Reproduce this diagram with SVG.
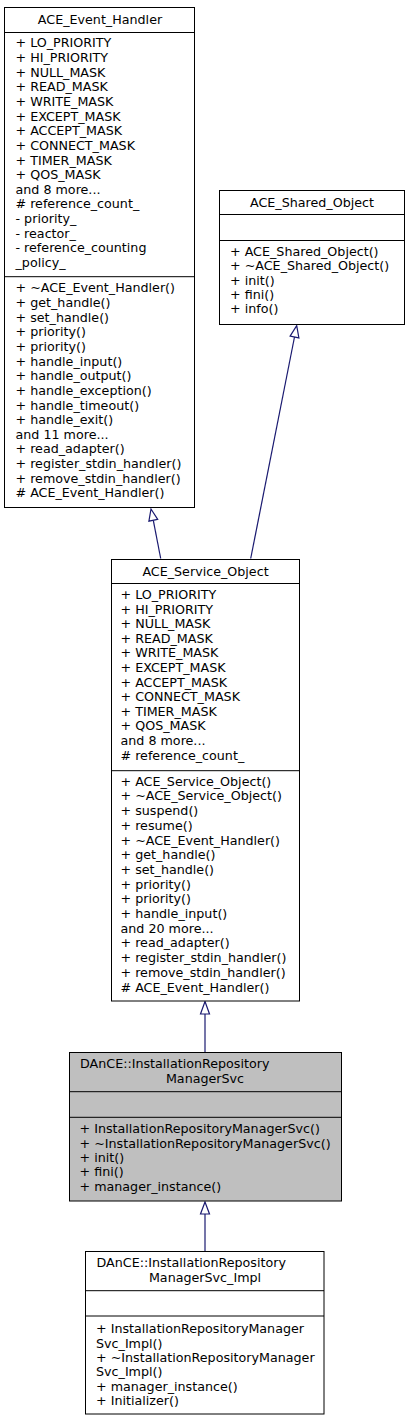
<svg xmlns="http://www.w3.org/2000/svg" width="409" height="1421" viewBox="0 0 409 1421">
<style>
.box{fill:#ffffff;stroke:#000000;stroke-width:1}
.hl{fill:#bfbfbf;stroke:#000000;stroke-width:1}
.sep{stroke:#000000;stroke-width:1}
text{font-family:"DejaVu Sans","Liberation Sans",sans-serif;font-size:12.7px;fill:#000000}
.c{text-anchor:middle}
.edge{stroke:#191970;stroke-width:1.2;fill:none}
.head{stroke:#191970;stroke-width:1.2;fill:#ffffff}
</style>
<rect width="409" height="1421" fill="#ffffff"/>
<g id="connectors">
<line class="edge" x1="160.7" y1="558.5" x2="153.3" y2="520.3"/>
<polygon class="head" points="151,509 157.7,519.4 148.9,521.2"/>
<line class="edge" x1="250.7" y1="558.5" x2="294.5" y2="337"/>
<polygon class="head" points="296.7,325.7 298.9,337.9 290.1,336.1"/>
<line class="edge" x1="205" y1="1052" x2="205" y2="1014"/>
<polygon class="head" points="205,1001.5 209.5,1014 200.5,1014"/>
<line class="edge" x1="205" y1="1251" x2="205" y2="1214"/>
<polygon class="head" points="205,1202 209.5,1214 200.5,1214"/>
</g>
<g id="ACE_Event_Handler">
<rect class="box" x="4.5" y="7.5" width="190" height="500"/>
<text class="c" x="100" y="24">ACE_Event_Handler</text>
<line class="sep" x1="4.5" y1="32.5" x2="194.5" y2="32.5"/>
<text x="15.5" y="47.3">+ LO_PRIORITY</text>
<text x="15.5" y="61.95">+ HI_PRIORITY</text>
<text x="15.5" y="76.6">+ NULL_MASK</text>
<text x="15.5" y="91.25">+ READ_MASK</text>
<text x="15.5" y="105.9">+ WRITE_MASK</text>
<text x="15.5" y="120.55">+ EXCEPT_MASK</text>
<text x="15.5" y="135.2">+ ACCEPT_MASK</text>
<text x="15.5" y="149.85">+ CONNECT_MASK</text>
<text x="15.5" y="164.5">+ TIMER_MASK</text>
<text x="15.5" y="179.15">+ QOS_MASK</text>
<text x="15.5" y="193.8">and 8 more...</text>
<text x="15.5" y="208.45"># reference_count_</text>
<text x="15.5" y="223.1">- priority_</text>
<text x="15.5" y="237.75">- reactor_</text>
<text x="15.5" y="252.4">- reference_counting</text>
<text x="15.5" y="267.05">_policy_</text>
<line class="sep" x1="4.5" y1="276.7" x2="194.5" y2="276.7"/>
<text x="15.5" y="292.3">+ ~ACE_Event_Handler()</text>
<text x="15.5" y="306.95">+ get_handle()</text>
<text x="15.5" y="321.6">+ set_handle()</text>
<text x="15.5" y="336.25">+ priority()</text>
<text x="15.5" y="350.9">+ priority()</text>
<text x="15.5" y="365.55">+ handle_input()</text>
<text x="15.5" y="380.2">+ handle_output()</text>
<text x="15.5" y="394.85">+ handle_exception()</text>
<text x="15.5" y="409.5">+ handle_timeout()</text>
<text x="15.5" y="424.15">+ handle_exit()</text>
<text x="15.5" y="438.8">and 11 more...</text>
<text x="15.5" y="453.45">+ read_adapter()</text>
<text x="15.5" y="468.1">+ register_stdin_handler()</text>
<text x="15.5" y="482.75">+ remove_stdin_handler()</text>
<text x="15.5" y="497.4"># ACE_Event_Handler()</text>
</g>
<g id="ACE_Shared_Object">
<rect class="box" x="219.5" y="190.5" width="185" height="134"/>
<text class="c" x="312" y="206.5">ACE_Shared_Object</text>
<line class="sep" x1="219.5" y1="214.5" x2="404.5" y2="214.5"/>
<line class="sep" x1="219.5" y1="240.5" x2="404.5" y2="240.5"/>
<text x="230" y="255.7">+ ACE_Shared_Object()</text>
<text x="230" y="270.1">+ ~ACE_Shared_Object()</text>
<text x="230" y="284.5">+ init()</text>
<text x="230" y="298.9">+ fini()</text>
<text x="230" y="313.3">+ info()</text>
</g>
<g id="ACE_Service_Object">
<rect class="box" x="111.5" y="559.5" width="188" height="441.5"/>
<text class="c" x="205.5" y="575.5">ACE_Service_Object</text>
<line class="sep" x1="111.5" y1="583.5" x2="299.5" y2="583.5"/>
<text x="120.5" y="599">+ LO_PRIORITY</text>
<text x="120.5" y="613.6">+ HI_PRIORITY</text>
<text x="120.5" y="628.2">+ NULL_MASK</text>
<text x="120.5" y="642.8">+ READ_MASK</text>
<text x="120.5" y="657.4">+ WRITE_MASK</text>
<text x="120.5" y="672">+ EXCEPT_MASK</text>
<text x="120.5" y="686.6">+ ACCEPT_MASK</text>
<text x="120.5" y="701.2">+ CONNECT_MASK</text>
<text x="120.5" y="715.8">+ TIMER_MASK</text>
<text x="120.5" y="730.4">+ QOS_MASK</text>
<text x="120.5" y="745">and 8 more...</text>
<text x="120.5" y="759.6"># reference_count_</text>
<line class="sep" x1="111.5" y1="770.7" x2="299.5" y2="770.7"/>
<text x="120.5" y="785.7">+ ACE_Service_Object()</text>
<text x="120.5" y="800.4">+ ~ACE_Service_Object()</text>
<text x="120.5" y="815.1">+ suspend()</text>
<text x="120.5" y="829.8">+ resume()</text>
<text x="120.5" y="844.5">+ ~ACE_Event_Handler()</text>
<text x="120.5" y="859.2">+ get_handle()</text>
<text x="120.5" y="873.9">+ set_handle()</text>
<text x="120.5" y="888.6">+ priority()</text>
<text x="120.5" y="903.3">+ priority()</text>
<text x="120.5" y="918">+ handle_input()</text>
<text x="120.5" y="932.7">and 20 more...</text>
<text x="120.5" y="947.4">+ read_adapter()</text>
<text x="120.5" y="962.1">+ register_stdin_handler()</text>
<text x="120.5" y="976.8">+ remove_stdin_handler()</text>
<text x="120.5" y="991.5"># ACE_Event_Handler()</text>
</g>
<g id="InstallationRepositoryManagerSvc">
<rect class="hl" x="69.5" y="1052.5" width="272" height="148.5"/>
<text x="80" y="1068">DAnCE::InstallationRepository</text>
<text class="c" x="205" y="1083">ManagerSvc</text>
<line class="sep" x1="69.5" y1="1091.7" x2="341.5" y2="1091.7"/>
<line class="sep" x1="69.5" y1="1117.3" x2="341.5" y2="1117.3"/>
<text x="79.5" y="1133.3">+ InstallationRepositoryManagerSvc()</text>
<text x="79.5" y="1147.65">+ ~InstallationRepositoryManagerSvc()</text>
<text x="79.5" y="1162">+ init()</text>
<text x="79.5" y="1176.35">+ fini()</text>
<text x="79.5" y="1190.7">+ manager_instance()</text>
</g>
<g id="InstallationRepositoryManagerSvc_Impl">
<rect class="box" x="85.5" y="1251.5" width="238.5" height="162.5"/>
<text x="96.5" y="1267.3">DAnCE::InstallationRepository</text>
<text class="c" x="205" y="1282.3">ManagerSvc_Impl</text>
<line class="sep" x1="85.5" y1="1290.7" x2="324" y2="1290.7"/>
<line class="sep" x1="85.5" y1="1316" x2="324" y2="1316"/>
<text x="96" y="1333.3">+ InstallationRepositoryManager</text>
<text x="96" y="1347.6">Svc_Impl()</text>
<text x="96" y="1361.9">+ ~InstallationRepositoryManager</text>
<text x="96" y="1376.2">Svc_Impl()</text>
<text x="96" y="1390.5">+ manager_instance()</text>
<text x="96" y="1404.8">+ Initializer()</text>
</g>
</svg>
